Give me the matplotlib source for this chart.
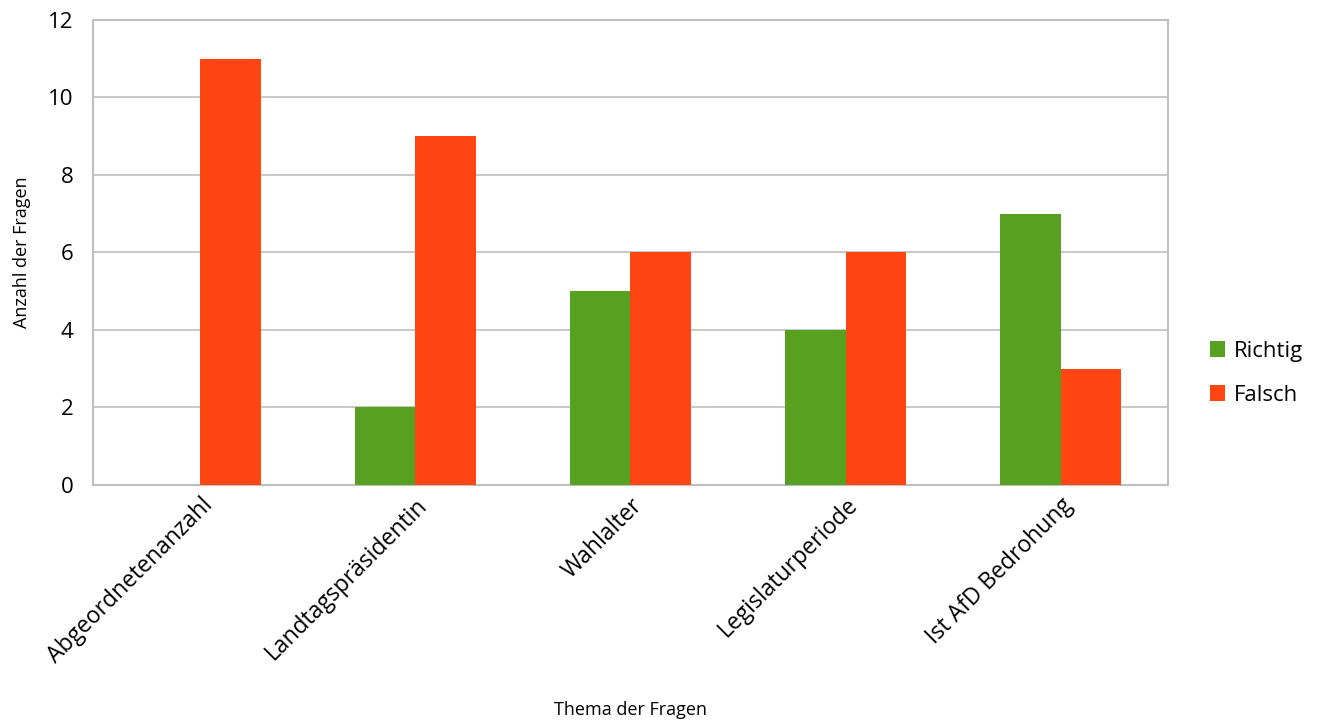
import matplotlib.pyplot as plt
import matplotlib.transforms as mtransforms
import numpy as np

categories = ["Abgeordnetenanzahl", "Landtagspräsidentin", "Wahlalter",
              "Legislaturperiode", "Ist AfD Bedrohung"]
richtig = [0, 2, 5, 4, 7]
falsch = [11, 9, 6, 6, 3]

GREEN = "#58A01F"
RED = "#FF4612"
GRID = "#BFBFBF"

plt.rcParams["font.family"] = ["Open Sans", "DejaVu Sans"]

fig = plt.figure(figsize=(13.24, 7.26), dpi=100)
ax = fig.add_axes([0.0702, 0.332, 0.812, 0.6405])

x = np.arange(len(categories))
w = 0.28
ax.bar(x - w / 2, richtig, w, color=GREEN, label="Richtig", zorder=3)
ax.bar(x + w / 2, falsch, w, color=RED, label="Falsch", zorder=3)

ax.set_xlim(-0.5, len(categories) - 0.5)
ax.set_ylim(0, 12)
ax.set_yticks(range(0, 13, 2))
ax.set_xticks(x)
ax.set_xticklabels(categories, rotation=45, ha="right", rotation_mode="anchor", fontsize=16.5)
shift = mtransforms.ScaledTranslation(10 / 100, -4 / 100, fig.dpi_scale_trans)
for lbl in ax.get_xticklabels():
    lbl.set_transform(lbl.get_transform() + shift)
ax.tick_params(axis="y", labelsize=16, length=0, pad=14)
ax.tick_params(axis="x", length=0, pad=6)
ax.yaxis.grid(True, color=GRID, linewidth=1.2, zorder=0)
for s in ax.spines.values():
    s.set_color(GRID)
    s.set_linewidth(1.5)

ax.set_ylabel("Anzahl der Fragen", fontsize=13, labelpad=12)
ax.set_xlabel("Thema der Fragen", fontsize=13, labelpad=24)

ax.legend(loc="center left", bbox_to_anchor=(1.02, 0.24), frameon=False,
          fontsize=16, handlelength=0.7, handleheight=0.7, handletextpad=0.4,
          labelspacing=1.05)

fig.savefig("out.png", dpi=100)
